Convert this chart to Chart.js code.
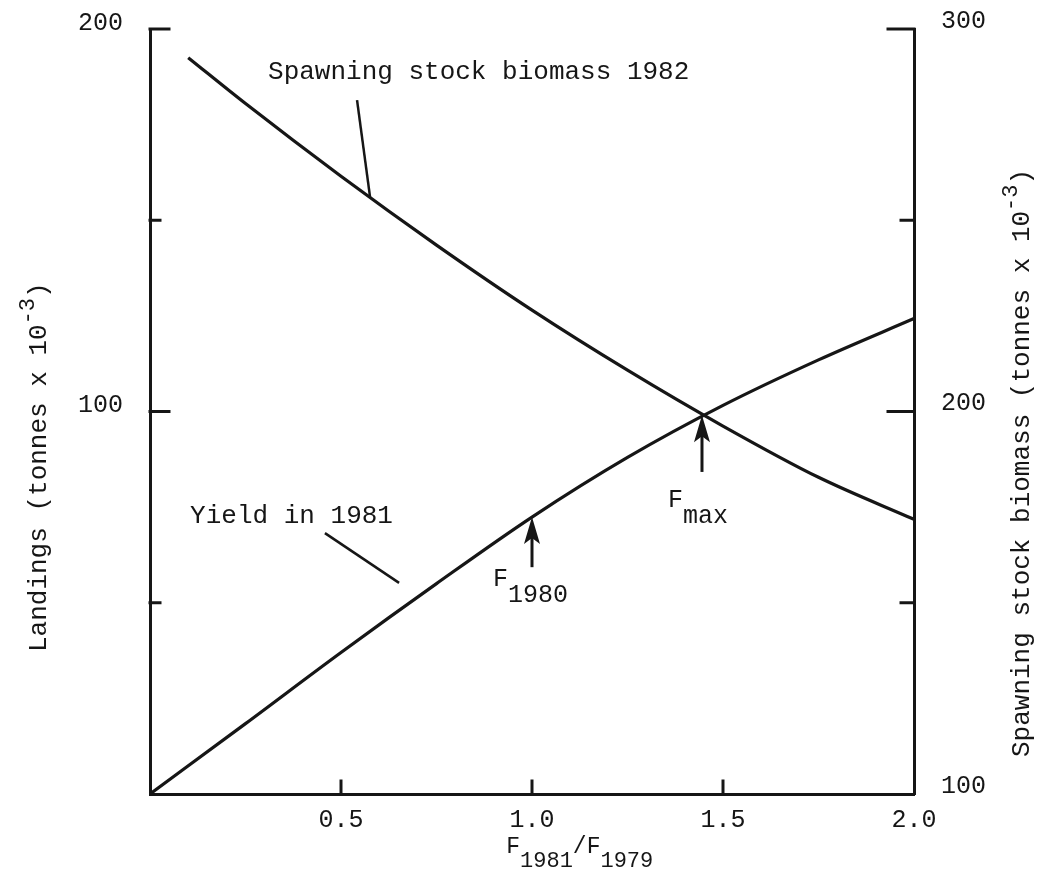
<!DOCTYPE html>
<html>
<head>
<meta charset="utf-8">
<title>Yield and spawning stock biomass vs F1981/F1979</title>
<script src="https://cdn.jsdelivr.net/npm/chart.js@4/dist/chart.umd.min.js"></script>
<style>
  html, body { margin: 0; padding: 0; background: #fff; }
  canvas { display: block; }
</style>
</head>
<body>
<canvas id="fishChart" width="1040" height="885"></canvas>
<script>
// F multiplier (F1981 / F1979)
const fRatio = [0, 0.25, 0.5, 0.75, 1.0, 1.25, 1.5, 1.75, 2.0];
// Yield in 1981, tonnes x 10^-3 (left axis)
const yield1981 = [0, 18.4, 37, 55, 72.4, 88, 101.6, 113.5, 124.3];

// Spawning stock biomass 1982, tonnes x 10^-3 (right axis)
const ssbRatio = [0.1, 0.25, 0.5, 0.75, 1.0, 1.25, 1.5, 1.75, 2.0];
const ssb1982 = [292.5, 280.5, 261.5, 243.5, 226.5, 210.8, 196.2, 182.8, 171.8];

// axis ticks
const xTicks = [0.5, 1.0, 1.5, 2.0];
const leftTicks = [0, 50, 100, 150, 200];
const leftLabels = [100, 200];
const rightTicks = [100, 150, 200, 250, 300];
const rightLabels = [100, 200, 300];

// reference F values marked with arrows, and the yield at each
const markF = [1.0, 1.445];
const markYield = [72.4, 99];
const markSub = ['1980', 'max'];

const ink = '#161616';
const mono = '"Liberation Mono", "DejaVu Sans Mono", monospace';

function textRun(ctx, x, y, parts) {
  // parts: [text, font size, baseline shift]
  parts.forEach(([t, size, dy]) => {
    ctx.font = size + 'px ' + mono;
    ctx.fillText(t, x, y + dy);
    x += ctx.measureText(t).width;
  });
  return x;
}

function runWidth(ctx, parts) {
  let w = 0;
  parts.forEach(([t, size]) => {
    ctx.font = size + 'px ' + mono;
    w += ctx.measureText(t).width;
  });
  return w;
}

function seg(ctx, x1, y1, x2, y2) {
  ctx.beginPath();
  ctx.moveTo(x1, y1);
  ctx.lineTo(x2, y2);
  ctx.stroke();
}

function upArrow(ctx, x, tip, tail) {
  seg(ctx, x, tail, x, tip + 18);
  ctx.beginPath();
  ctx.moveTo(x, tip);
  ctx.lineTo(x - 8, tip + 27);
  ctx.lineTo(x, tip + 21);
  ctx.lineTo(x + 8, tip + 27);
  ctx.closePath();
  ctx.fill();
}

// keep tick-label overhang from pushing the plot area around
function noPad(s) {
  s.paddingTop = 0;
  s.paddingBottom = 0;
  s.paddingLeft = 0;
  s.paddingRight = 0;
}

const paperBg = {
  id: 'paperBg',
  beforeDraw(chart) {
    const c = chart.ctx;
    c.save();
    c.fillStyle = '#fff';
    c.fillRect(0, 0, chart.width, chart.height);
    c.restore();
  }
};

const decorations = {
  id: 'decorations',
  afterDraw(chart) {
    const { ctx, chartArea: a, scales: { x, y, y2 } } = chart;
    ctx.save();
    ctx.strokeStyle = ink;
    ctx.fillStyle = ink;
    ctx.lineWidth = 3;
    ctx.lineCap = 'square';

    // inward tick marks
    leftTicks.forEach(v => {
      if (v === 0) return;
      const py = y.getPixelForValue(v);
      seg(ctx, a.left, py, a.left + (leftLabels.includes(v) ? 19 : 10), py);
    });
    rightTicks.forEach(v => {
      if (v === 100) return;
      const py = y2.getPixelForValue(v);
      seg(ctx, a.right, py, a.right - (rightLabels.includes(v) ? 26 : 13), py);
    });
    xTicks.forEach(v => {
      if (v === 2.0) return;
      const px = x.getPixelForValue(v);
      seg(ctx, px, a.bottom, px, a.bottom - 13);
    });

    // leader lines for the curve labels
    ctx.lineWidth = 2.5;
    ctx.lineCap = 'butt';
    seg(ctx, x.getPixelForValue(0.542), y.getPixelForValue(181.4),
             x.getPixelForValue(0.576), y.getPixelForValue(156.1));
    seg(ctx, x.getPixelForValue(0.458), y.getPixelForValue(68.2),
             x.getPixelForValue(0.652), y.getPixelForValue(55.2));

    // arrows at F1980 and Fmax
    ctx.lineWidth = 3;
    const tails = [59.3, 84.2];
    markF.forEach((f, i) => {
      upArrow(ctx, x.getPixelForValue(f), y.getPixelForValue(markYield[i]),
              y.getPixelForValue(tails[i]));
    });

    // curve labels
    ctx.textBaseline = 'alphabetic';
    ctx.textAlign = 'left';
    textRun(ctx, x.getPixelForValue(0.309), y.getPixelForValue(186.9),
            [['Spawning stock biomass 1982', 26, 0]]);
    textRun(ctx, x.getPixelForValue(0.105), y.getPixelForValue(70.8),
            [['Yield in 1981', 26, 0]]);
    const labelAt = [[0.898, 54.4], [1.356, 75]];
    markSub.forEach((s, i) => {
      textRun(ctx, x.getPixelForValue(labelAt[i][0]), y.getPixelForValue(labelAt[i][1]),
              [['F', 25, 0], [s, 25, 16]]);
    });

    // x axis title
    const xt = [['F', 23, 0], ['1981', 22, 14], ['/', 23, 0], ['F', 23, 0], ['1979', 22, 14]];
    const xtw = runWidth(ctx, xt);
    textRun(ctx, x.getPixelForValue(1.125) - xtw / 2, a.bottom + 59, xt);

    // rotated y axis titles
    const yt = [['Landings (tonnes x 10', 26, 0], ['-3', 22, -12], [')', 26, 0]];
    ctx.save();
    ctx.translate(46, 652);
    ctx.rotate(-Math.PI / 2);
    textRun(ctx, 0, 0, yt);
    ctx.restore();

    const y2t = [['Spawning stock biomass (tonnes x 10', 26, 0], ['-3', 22, -12], [')', 26, 0]];
    ctx.save();
    ctx.translate(1029, 757);
    ctx.rotate(-Math.PI / 2);
    textRun(ctx, 0, 0, y2t);
    ctx.restore();

    ctx.restore();
  }
};

const tickFont = { family: mono, size: 25 };
const ctx = document.getElementById('fishChart').getContext('2d');

const fishChart = new Chart(ctx, {
  type: 'line',
  data: {
    datasets: [
      {
        label: 'Yield in 1981',
        data: fRatio.map((f, i) => ({ x: f, y: yield1981[i] })),
        yAxisID: 'y',
        borderColor: ink,
        borderWidth: 3.2,
        pointRadius: 0,
        cubicInterpolationMode: 'monotone',
        fill: false
      },
      {
        label: 'Spawning stock biomass 1982',
        data: ssbRatio.map((f, i) => ({ x: f, y: ssb1982[i] })),
        yAxisID: 'y2',
        borderColor: ink,
        borderWidth: 3.2,
        pointRadius: 0,
        cubicInterpolationMode: 'monotone',
        fill: false
      }
    ]
  },
  options: {
    responsive: false,
    animation: false,
    devicePixelRatio: 1,
    layout: { padding: { top: 29, left: 0, right: 0, bottom: 0 } },
    plugins: {
      legend: { display: false },
      tooltip: { enabled: false }
    },
    scales: {
      x: {
        type: 'linear',
        position: 'bottom',
        min: 0,
        max: 2,
        afterBuildTicks: s => { s.ticks = xTicks.map(v => ({ value: v })); },
        afterFit: s => { s.height = 91; noPad(s); },
        grid: { display: false, drawTicks: false },
        border: { display: true, color: ink, width: 3 },
        ticks: {
          font: tickFont,
          color: ink,
          padding: 11,
          maxRotation: 0,
          autoSkip: false,
          callback: v => Number(v).toFixed(1)
        }
      },
      y: {
        type: 'linear',
        position: 'left',
        min: 0,
        max: 200,
        afterBuildTicks: s => { s.ticks = leftTicks.map(v => ({ value: v })); },
        afterFit: s => { s.width = 150; noPad(s); },
        grid: { display: false, drawTicks: false },
        border: { display: true, color: ink, width: 3 },
        ticks: {
          font: tickFont,
          color: ink,
          padding: 27,
          labelOffset: -6,
          callback: v => leftLabels.includes(v) ? String(v) : ''
        }
      },
      y2: {
        type: 'linear',
        position: 'right',
        min: 100,
        max: 300,
        afterBuildTicks: s => { s.ticks = rightTicks.map(v => ({ value: v })); },
        afterFit: s => { s.width = 126; noPad(s); },
        grid: { display: false, drawTicks: false },
        border: { display: true, color: ink, width: 3 },
        ticks: {
          font: tickFont,
          color: ink,
          padding: 27,
          labelOffset: -8,
          callback: v => rightLabels.includes(v) ? String(v) : ''
        }
      }
    }
  },
  plugins: [paperBg, decorations]
});
</script>
</body>
</html>
